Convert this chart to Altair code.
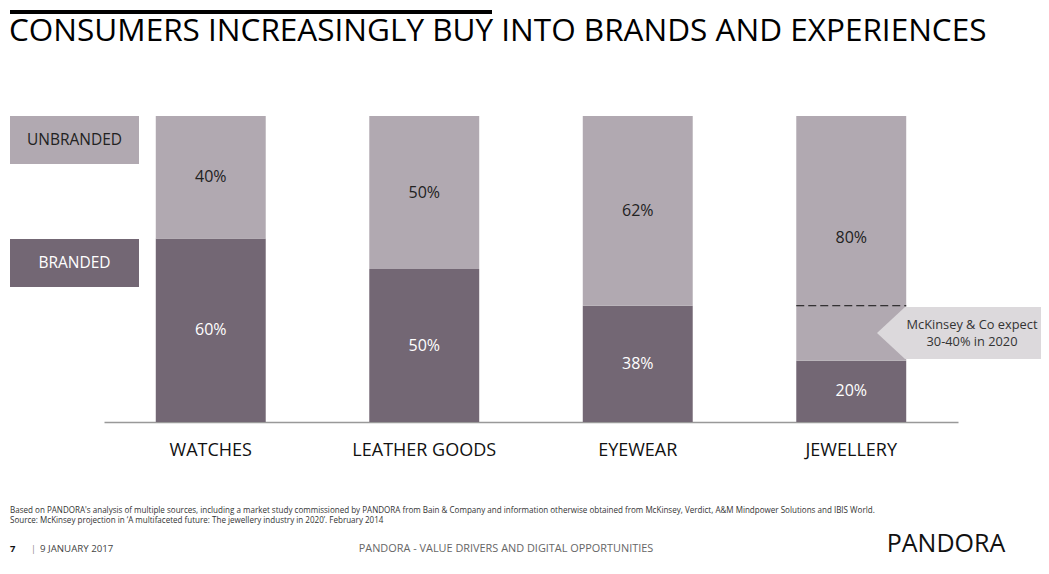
import altair as alt
import pandas as pd

categories = ["WATCHES", "LEATHER GOODS", "EYEWEAR", "JEWELLERY"]
branded = [60, 50, 38, 20]
unbranded = [40, 50, 62, 80]
forecast_cat = ["JEWELLERY"]
forecast_val = [38]

LIGHT = "#B1A9B1"
DARK = "#736774"
FONT = "Open Sans"

rows = []
for c, b, u in zip(categories, branded, unbranded):
    rows.append({"cat": c, "seg": "BRANDED", "start": 0, "end": b, "mid": b / 2, "label": f"{b}%"})
    rows.append({"cat": c, "seg": "UNBRANDED", "start": b, "end": b + u, "mid": b + u / 2, "label": f"{u}%"})
df = pd.DataFrame(rows)
fdf = pd.DataFrame({"cat": forecast_cat, "v": forecast_val})

W, H = 854, 306
xscale = alt.Scale(domain=categories, paddingInner=0.485, paddingOuter=0.2425)
yscale = alt.Scale(domain=[0, 100])

x_enc = alt.X("cat:N", scale=xscale, sort=categories, title=None,
              axis=alt.Axis(labelAngle=0, labelFont=FONT, labelFontSize=18, labelColor="#111",
                            labelPadding=19, ticks=False, domainColor="#999", domainWidth=1.5,
                            grid=False, labelBaseline="top"))

bars = alt.Chart(df).mark_bar().encode(
    x=x_enc,
    y=alt.Y("start:Q", scale=yscale, axis=None),
    y2="end:Q",
    color=alt.Color("seg:N", scale=alt.Scale(domain=["BRANDED", "UNBRANDED"], range=[DARK, LIGHT]), legend=None),
)

labels = alt.Chart(df).mark_text(font=FONT, fontSize=16).encode(
    x=alt.X("cat:N", scale=xscale, sort=categories, title=None),
    y=alt.Y("mid:Q", scale=yscale, axis=None),
    text="label:N",
    color=alt.condition("datum.seg == 'BRANDED'", alt.value("#ffffff"), alt.value("#222222")),
)

dash = alt.Chart(fdf).mark_rule(strokeDash=[8, 4], color="#111", strokeWidth=1, xOffset=-55, x2Offset=55).encode(
    x=alt.X("cat:N", scale=xscale, sort=categories, title=None),
    x2="cat:N",
    y=alt.Y("v:Q", scale=yscale, axis=None),
)

one = pd.DataFrame({"a": [0]})

def rect(x1, x2, y1, y2, color):
    return alt.Chart(one).mark_rect(color=color).encode(
        x=alt.value(x1), x2=alt.value(x2), y=alt.value(y1), y2=alt.value(y2))

def text(s, x, y, size, color="#111", align="left", weight="normal", baseline="alphabetic"):
    return alt.Chart(one).mark_text(text=s, font=FONT, fontSize=size, color=color, align=align,
                                    fontWeight=weight, baseline=baseline).encode(
        x=alt.value(x), y=alt.value(y))

OX, OY = 104, 116
top_line = alt.Chart(one).mark_rule(color="#000", strokeWidth=4).encode(
    x=alt.value(10 - OX), x2=alt.value(492 - OX), y=alt.value(12 - OY))
title = text("CONSUMERS INCREASINGLY BUY INTO BRANDS AND EXPERIENCES", 9 - OX, 40.5 - OY, 31.5, "#000")

leg_u = rect(10 - OX, 139 - OX, 0, 48, LIGHT)
leg_b = rect(10 - OX, 139 - OX, 123, 171, DARK)
leg_u_t = text("UNBRANDED", 74.5 - OX, 24, 15.5, "#222", "center", baseline="middle")
leg_b_t = text("BRANDED", 74.5 - OX, 147, 15.5, "#ffffff", "center", baseline="middle")

arrow = alt.Chart(one).mark_point(
    shape="M-1,0L-0.676,-0.3L1,-0.3L1,0.3L-0.676,0.3Z", filled=True, fill="#DCD9DC",
    size=173 ** 2, opacity=1, strokeWidth=0).encode(
    x=alt.value(963.5 - OX), y=alt.value(333 - OY))
ann1 = text("McKinsey & Co expect", 972 - OX, 333 - OY - 8.5, 12.8, "#333", "center", baseline="middle")
ann2 = text("30-40% in 2020", 972 - OX, 333 - OY + 9, 12.8, "#333", "center", baseline="middle")

fn1 = text("Based on PANDORA's analysis of multiple sources, including a market study commissioned by PANDORA from Bain & Company and information otherwise obtained from McKinsey, Verdict, A&M Mindpower Solutions and IBIS World.",
           10 - OX, 513 - OY, 8.05, "#333")
fn2 = text("Source: McKinsey projection in \u2018A multifaceted future: The jewellery industry in 2020\u2019. February 2014",
           10 - OX, 523 - OY, 8.05, "#333")

f7 = text("7", 10 - OX, 552 - OY, 9.5, "#111", weight="bold")
fbar = text("|", 31 - OX, 552 - OY, 9, "#888")
fdate = text("9 JANUARY 2017", 40 - OX, 552 - OY, 9.7, "#444")
fmid = text("PANDORA - VALUE DRIVERS AND DIGITAL OPPORTUNITIES", 506 - OX, 552 - OY, 10.9, "#666", "center")
logo = text("PANDORA", 946 - OX, 552 - OY, 25, "#111", "center")

chart = alt.layer(
    bars, labels, dash, arrow, ann1, ann2,
    top_line, title, leg_u, leg_b, leg_u_t, leg_b_t,
    fn1, fn2, f7, fbar, fdate, fmid, logo,
).properties(
    width=W, height=H,
    view=alt.ViewBackground(strokeWidth=0, strokeOpacity=0),
    autosize=alt.AutoSizeParams(type="none"),
    padding={"left": OX - 8, "top": OY - 8, "right": 83, "bottom": 148},
).configure_view(strokeWidth=0, strokeOpacity=0, clip=False).configure(background="#ffffff")

chart.save("out.html", embed_options={"renderer": "svg", "actions": False})
